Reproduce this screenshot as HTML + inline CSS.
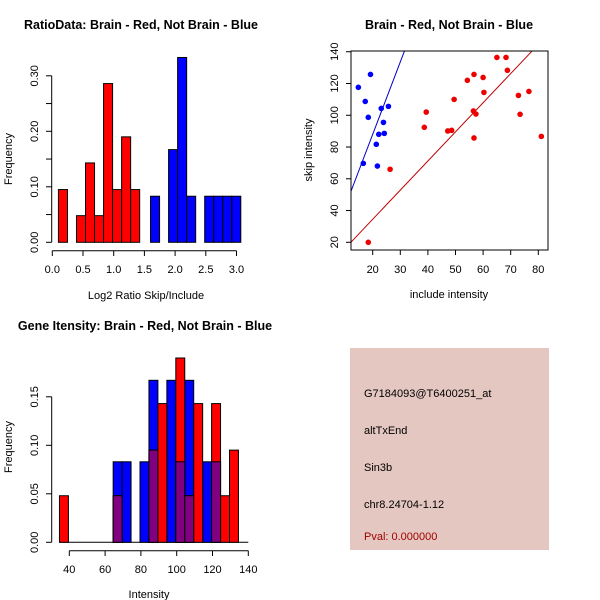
<!DOCTYPE html>
<html><head><meta charset="utf-8"><style>
body{margin:0;background:#fff}
svg{display:block;font-family:"Liberation Sans",sans-serif}
</style></head><body>
<svg id="c" width="600" height="600" viewBox="0 0 600 600">
<rect width="600" height="600" fill="#fff"/>
<text x="141" y="29" text-anchor="middle" font-size="12.5" font-weight="bold">RatioData: Brain - Red, Not Brain - Blue</text>
<text x="449" y="29" text-anchor="middle" font-size="12.5" font-weight="bold">Brain - Red, Not Brain - Blue</text>
<text x="145" y="330" text-anchor="middle" font-size="12.5" font-weight="bold">Gene Itensity: Brain - Red, Not Brain - Blue</text>
<text x="146" y="299" text-anchor="middle" font-size="11">Log2 Ratio Skip/Include</text>
<text x="449" y="298" text-anchor="middle" font-size="11">include intensity</text>
<text x="149" y="598" text-anchor="middle" font-size="11">Intensity</text>
<text transform="translate(12,159) rotate(-90)" text-anchor="middle" font-size="11">Frequency</text>
<text transform="translate(312,150) rotate(-90)" text-anchor="middle" font-size="11">skip intensity</text>
<text transform="translate(12,447) rotate(-90)" text-anchor="middle" font-size="11">Frequency</text>
<g>
<rect x="350" y="348" width="199" height="202" fill="#e5c7c1"/>
<text x="364" y="397" font-size="11">G7184093@T6400251_at</text>
<text x="364" y="434" font-size="11">altTxEnd</text>
<text x="364" y="471" font-size="11">Sin3b</text>
<text x="364" y="508" font-size="11">chr8.24704-1.12</text>
<text x="364" y="540" font-size="11" fill="#a00000">Pval: 0.000000</text>
</g>
<g id="g1"></g><g id="g2"></g><g id="g3"></g>
</svg>
<script>
// Ratio histogram data
const ratioBinStartRed = 0.1;
const ratioBinStartBlue = 1.6;
const ratioBinWidth = 0.147;
const ratioRed = [0.095,0,0.048,0.143,0.048,0.286,0.095,0.190,0.095];
const ratioBlue = [0.083,0,0.167,0.333,0.083,0,0.083,0.083,0.083,0.083];
const ratioXTicks = [0,0.5,1,1.5,2,2.5,3];
const ratioXLabels = ["0.0","0.5","1.0","1.5","2.0","2.5","3.0"];
const ratioYTicks = [0,0.05,0.1,0.15,0.2,0.25,0.3];
const ratioYLabels = ["0.00","","0.10","","0.20","","0.30"];
// Scatter data
const blueX = [14.8,19.2,17.3,18.4,23.1,25.7,23.9,22.2,24.2,21.3,16.6,21.7];
const blueY = [117.6,125.7,108.7,98.7,104.3,105.6,95.5,88,88.6,81.7,69.7,68];
const redX = [18.4,26.3,38.7,39.4,47.2,48.6,49.5,54.3,56.7,56.5,57.4,56.7,60,60.3,65,68.3,68.8,72.8,73.4,76.6,81.1];
const redY = [20,66,92.4,102,90.1,90.5,110,122,125.7,102.7,100.8,85.7,123.8,114.4,136.4,136.4,128.3,112.5,100.6,115,86.7];
const blueLine = [-3.2,4.56];
const redLine = [-2.2,1.835];
const scXTicks = [20,30,40,50,60,70,80];
const scYTicks = [20,40,60,80,100,120,140];
// Intensity histogram data (bins of 5 starting at 34.5)
const intBinStart = 34.5;
const intBinWidth = 5;
const intRed = [0.048,0,0,0,0,0,0.048,0,0,0,0.095,0.143,0,0.190,0.048,0.143,0,0.143,0.048,0.095];
const intBlue = [0,0,0,0,0,0,0.083,0.083,0,0.083,0.167,0,0.167,0.083,0.167,0,0.083,0.083,0,0];
const intXTicks = [40,60,80,100,120,140];
const intYTicks = [0,0.05,0.1,0.15];
const intYLabels = ["0.00","0.05","0.10","0.15"];

const NS="http://www.w3.org/2000/svg";
function mk(p,t,a){const e=document.createElementNS(NS,t);for(const k in a)e.setAttribute(k,a[k]);p.appendChild(e);return e;}

// Panel 1
(function(){
const g=document.getElementById('g1');
const X=v=>52.3+v*61.4, Y=v=>242.3-v*555;
function bars(start,arr,col,nm){arr.forEach((h,i)=>{const x0=X(start+i*ratioBinWidth),x1=X(start+(i+1)*ratioBinWidth);
 const r=mk(g,'rect',{x:x0,y:Y(h),width:x1-x0,height:Y(0)-Y(h),fill:col,stroke:'#000','stroke-width':1});
 
 });}
bars(ratioBinStartRed,ratioRed,'#f00','ratio-bar-red');
bars(ratioBinStartBlue,ratioBlue,'#00f','ratio-bar-blue');
mk(g,'line',{x1:X(0),x2:X(3),y1:250.7,y2:250.7,stroke:'#000'});
ratioXTicks.forEach((t,i)=>{mk(g,'line',{x1:X(t),x2:X(t),y1:250.7,y2:256,stroke:'#000'});
 const s=mk(g,'text',{x:X(t),y:273,'text-anchor':'middle','font-size':11});s.textContent=ratioXLabels[i];
 
 });
mk(g,'line',{x1:51.7,x2:51.7,y1:Y(0),y2:Y(0.3),stroke:'#000'});
ratioYTicks.forEach((t,i)=>{mk(g,'line',{x1:46,x2:51.7,y1:Y(t),y2:Y(t),stroke:'#000'});
 if(ratioYLabels[i]){const s=mk(g,'text',{transform:`translate(38,${Y(t)}) rotate(-90)`,'text-anchor':'middle','font-size':11});s.textContent=ratioYLabels[i];
 
 }});
})();

// Panel 2
(function(){
const g=document.getElementById('g2');
const X=v=>372.7+(v-20)*2.76, Y=v=>242.3-(v-20)*1.588;
const cp=mk(g,'clipPath',{id:'cp'});mk(cp,'rect',{x:351,y:51,width:197,height:199});
const lg=mk(g,'g',{'clip-path':'url(#cp)'});
[[blueLine,'#00c','blue-fit-line'],[redLine,'#c00000','red-fit-line']].forEach(([l,c,n])=>{
 const ln=mk(lg,'line',{x1:X(0),y1:Y(l[0]),x2:X(100),y2:Y(l[0]+l[1]*100),stroke:c,'stroke-width':1});
 
 });
blueX.forEach((x,i)=>{const c=mk(g,'circle',{cx:X(x),cy:Y(blueY[i]),r:2.8,fill:'#00f'});
 
 });
redX.forEach((x,i)=>{const c=mk(g,'circle',{cx:X(x),cy:Y(redY[i]),r:2.8,fill:'#e00'});
 
 });
mk(g,'rect',{x:351,y:51,width:197,height:199,fill:'none',stroke:'#000'});
scXTicks.forEach(t=>{mk(g,'line',{x1:X(t),x2:X(t),y1:250,y2:255,stroke:'#000'});
 const s=mk(g,'text',{x:X(t),y:273,'text-anchor':'middle','font-size':11});s.textContent=t;
 
 });
scYTicks.forEach(t=>{mk(g,'line',{x1:346,x2:351,y1:Y(t),y2:Y(t),stroke:'#000'});
 const s=mk(g,'text',{transform:`translate(338,${Y(t)}) rotate(-90)`,'text-anchor':'middle','font-size':11});s.textContent=t;
 
 });
})();

// Panel 3
(function(){
const g=document.getElementById('g3');
const X=v=>69.3+(v-40)*1.79, Y=v=>542.3-v*970;
mk(g,'line',{x1:X(intBinStart),x2:X(140),y1:Y(0),y2:Y(0),stroke:'#000'});
function draw(arr,col,nm){arr.forEach((h,i)=>{if(h<=0)return;const x0=X(intBinStart+i*intBinWidth),x1=X(intBinStart+(i+1)*intBinWidth);
 const r=mk(g,'rect',{x:x0,y:Y(h),width:x1-x0,height:Y(0)-Y(h),fill:col,stroke:'#000'});
 
 });}
draw(intBlue,'#00f','int-bar-blue');
draw(intRed,'#f00','int-bar-red');
draw(intRed.map((r,i)=>Math.min(r,intBlue[i])),'#800080','int-bar-overlap');
mk(g,'line',{x1:X(40),x2:X(140),y1:550.7,y2:550.7,stroke:'#000'});
intXTicks.forEach(t=>{mk(g,'line',{x1:X(t),x2:X(t),y1:550.7,y2:556,stroke:'#000'});
 const s=mk(g,'text',{x:X(t),y:573,'text-anchor':'middle','font-size':11});s.textContent=t;
 
 });
mk(g,'line',{x1:51.7,x2:51.7,y1:Y(0),y2:Y(0.15),stroke:'#000'});
intYTicks.forEach((t,i)=>{mk(g,'line',{x1:46,x2:51.7,y1:Y(t),y2:Y(t),stroke:'#000'});
 const s=mk(g,'text',{transform:`translate(38,${Y(t)}) rotate(-90)`,'text-anchor':'middle','font-size':11});s.textContent=intYLabels[i];
 
 });
})();
</script>
</body></html>
